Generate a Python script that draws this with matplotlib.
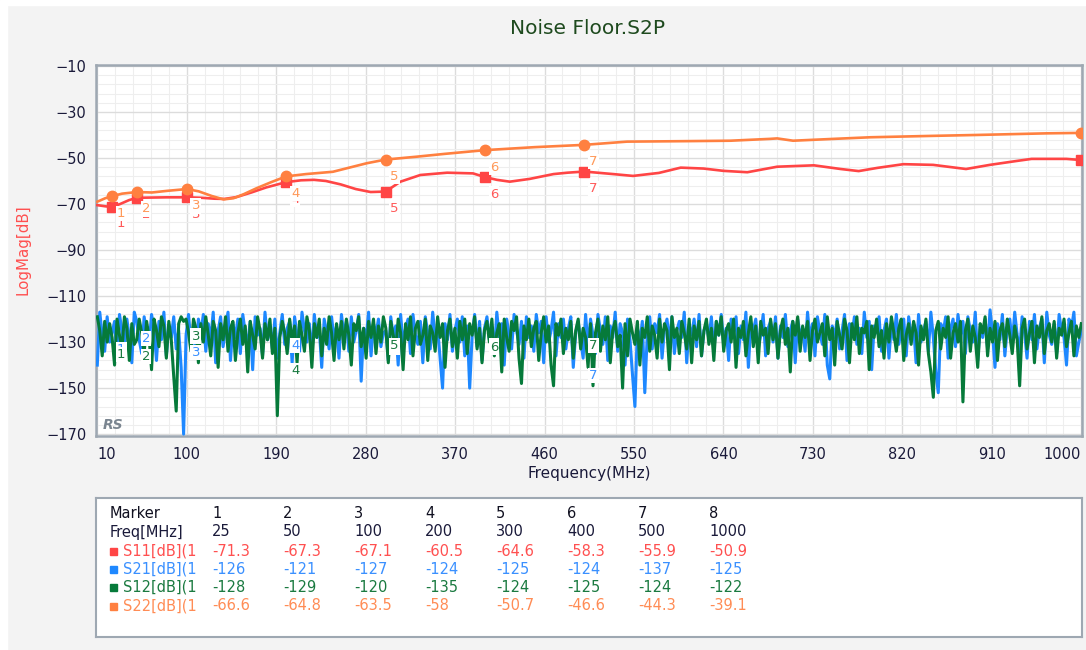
import numpy as np
import matplotlib
matplotlib.use("Agg")
import matplotlib.pyplot as plt
from matplotlib.patches import Rectangle

# ---- data ----
s11_freq = [10, 18, 25, 33, 42, 50, 65, 80, 100, 115, 128, 138, 150, 165, 180, 200, 215, 228, 240, 255,
            270, 285, 300, 315, 335, 362, 388, 400, 412, 425, 445, 469, 483, 500, 529, 549, 575, 597, 620, 640,
            664, 694, 731, 758, 776, 795, 821, 851, 884, 908, 935, 950, 985, 1000]
s11_db = [-70.5, -71.0, -71.3, -70.0, -68.3, -67.3, -67.2, -67.1, -67.1, -67.3, -67.7, -67.8, -67.0, -65.0,
          -62.8, -60.5, -59.7, -59.5, -60.0, -61.5, -63.5, -64.8, -64.6, -60.3, -57.4, -56.4, -56.7, -58.3,
          -59.5, -60.3, -59.1, -57.0, -56.4, -55.9, -57.0, -57.8, -56.5, -54.2, -54.6, -55.6, -56.2, -53.8,
          -53.2, -54.8, -55.7, -54.3, -52.7, -53.0, -54.8, -53.0, -51.3, -50.4, -50.4, -50.9]

s22_freq = [10, 18, 25, 35, 50, 65, 80, 100, 112, 125, 137, 147, 157, 170, 185, 200, 220, 247, 281, 300,
            330, 360, 400, 450, 500, 543, 600, 647, 687, 694, 710, 751, 788, 850, 895, 965, 1000]
s22_db = [-69.0, -67.5, -66.6, -65.5, -64.8, -65.0, -64.3, -63.5, -64.5, -66.5, -68.0, -67.5, -65.8, -63.2,
          -60.5, -58.0, -57.0, -56.0, -52.3, -50.7, -49.5, -48.2, -46.6, -45.3, -44.3, -42.9, -42.7, -42.5,
          -41.7, -41.5, -42.5, -41.7, -41.0, -40.4, -40.0, -39.3, -39.1]

# noise floor traces, 400 sweep points from 10 to 1000 MHz
s21_db = [
    -140, -117, -127, -134, -119, -130, -126, -121, -137, -118, -125, -132, -120, -128, -139, -117, -121, -129, -135, -119, -126, -131, -118, -124, -138,
    -121, -129, -117, -136, -123, -128, -119, -133, -125, -141, -170, -127, -118, -131, -124, -137, -120, -126, -118, -134, -122, -129, -117, -139, -125,
    -119, -132, -124, -117, -138, -122, -128, -120, -135, -118, -126, -131, -121, -142, -119, -127, -124, -136, -117, -129, -123, -133, -120, -137, -126,
    -118, -131, -124, -121, -139, -119, -127, -134, -117, -125, -130, -122, -136, -118, -128, -124, -141, -120, -126, -133, -119, -129, -123, -137, -118,
    -127, -121, -134, -119, -130, -125, -118, -147, -124, -129, -117, -136, -122, -127, -120, -132, -126, -125, -138, -119, -128, -123, -140, -118, -131,
    -124, -120, -135, -118, -127, -131, -121, -139, -119, -126, -133, -117, -128, -124, -137, -150, -122, -129, -118, -134, -125, -120, -130, -119, -136,
    -123, -150, -127, -118, -132, -121, -138, -124, -119, -129, -126, -135, -117, -128, -122, -140, -120, -127, -133, -118, -125, -131, -121, -137, -119,
    -128, -123, -134, -118, -126, -121, -139, -119, -130, -125, -117, -136, -122, -128, -120, -133, -124, -119, -141, -126, -121, -129, -137, -118, -132,
    -120, -127, -135, -118, -125, -131, -119, -138, -123, -128, -117, -134, -122, -126, -140, -120, -129, -144, -158, -124, -130, -121, -152, -127, -119,
    -133, -122, -126, -118, -137, -124, -120, -130, -119, -135, -125, -121, -128, -117, -139, -123, -127, -120, -132, -118, -136, -125, -122, -129, -119,
    -134, -121, -127, -118, -131, -124, -138, -120, -126, -119, -135, -123, -129, -117, -141, -122, -125, -120, -133, -127, -118, -136, -124, -121, -130,
    -119, -137, -123, -128, -118, -132, -125, -121, -139, -120, -127, -124, -134, -117, -129, -122, -136, -119, -126, -131, -118, -140, -146, -123, -128,
    -120, -133, -125, -118, -138, -122, -127, -119, -131, -124, -135, -117, -128, -121, -142, -123, -126, -119, -134, -125, -120, -137, -122, -129, -118,
    -131, -124, -120, -136, -119, -127, -123, -139, -118, -130, -125, -121, -134, -117, -128, -143, -152, -122, -126, -119, -137, -124, -120, -132, -118,
    -127, -121, -135, -119, -125, -130, -117, -138, -123, -128, -120, -133, -116, -126, -141, -122, -129, -118, -136, -124, -120, -131, -117, -127, -134,
    -119, -126, -137, -121, -129, -118, -133, -124, -120, -139, -117, -127, -131, -122, -135, -118, -125, -128, -140, -120, -124, -117, -136, -130, -125,
]
s12_db = [
    -119, -125, -136, -121, -130, -122, -128, -140, -120, -127, -133, -119, -124, -138, -122, -131, -129, -120, -126, -135, -121, -128, -142, -120, -125,
    -132, -119, -123, -137, -121, -129, -145, -160, -122, -119, -121, -120, -126, -134, -120, -124, -139, -122, -130, -119, -127, -136, -121, -125, -141,
    -122, -129, -119, -134, -124, -121, -138, -126, -120, -131, -123, -143, -121, -127, -133, -119, -125, -137, -122, -129, -120, -135, -124, -162, -128,
    -121, -126, -135, -120, -130, -123, -139, -121, -127, -134, -119, -125, -141, -122, -128, -120, -136, -124, -131, -119, -126, -138, -122, -129, -121,
    -133, -120, -127, -140, -122, -125, -119, -132, -124, -137, -121, -128, -120, -135, -123, -130, -119, -124, -139, -121, -127, -134, -120, -126, -142,
    -122, -129, -119, -136, -124, -121, -131, -127, -120, -138, -123, -126, -134, -119, -128, -122, -141, -125, -120, -132, -124, -137, -121, -129, -120,
    -135, -122, -127, -119, -133, -124, -139, -125, -121, -130, -120, -136, -126, -122, -143, -120, -128, -134, -121, -125, -119, -137, -148, -123, -129,
    -120, -132, -124, -121, -138, -126, -119, -130, -123, -140, -149, -122, -127, -120, -135, -124, -129, -121, -137, -125, -120, -133, -124, -128, -141,
    -122, -149, -126, -120, -134, -123, -129, -119, -139, -125, -121, -132, -127, -150, -122, -136, -120, -126, -131, -121, -140, -124, -128, -119, -134,
    -123, -127, -137, -120, -130, -122, -125, -142, -119, -128, -124, -135, -121, -126, -133, -120, -139, -123, -129, -121, -136, -125, -120, -131, -124,
    -138, -121, -127, -119, -134, -125, -122, -130, -120, -141, -124, -128, -121, -136, -126, -119, -132, -123, -139, -121, -127, -124, -135, -120, -129,
    -122, -137, -125, -120, -131, -124, -143, -121, -127, -119, -134, -123, -128, -121, -138, -125, -120, -130, -126, -122, -136, -119, -129, -124, -140,
    -121, -127, -133, -120, -125, -139, -122, -129, -119, -135, -124, -126, -121, -142, -123, -128, -120, -132, -125, -137, -122, -130, -119, -126, -134,
    -124, -120, -138, -127, -122, -131, -121, -126, -140, -123, -129, -120, -135, -143, -154, -125, -121, -133, -124, -128, -119, -137, -126, -122, -130,
    -121, -156, -125, -120, -134, -123, -128, -141, -122, -126, -119, -136, -124, -130, -121, -138, -125, -122, -132, -120, -127, -135, -123, -129, -149,
    -124, -120, -133, -126, -121, -139, -123, -128, -119, -135, -125, -122, -130, -121, -137, -124, -127, -120, -132, -126, -121, -136, -123, -128, -122,
]
freq_s21 = np.linspace(10, 1000, len(s21_db))
freq_s12 = np.linspace(10, 1000, len(s12_db))

marker_ids = [1, 2, 3, 4, 5, 6, 7, 8]
marker_freq = [25, 50, 100, 200, 300, 400, 500, 1000]
mk_s11 = [-71.3, -67.3, -67.1, -60.5, -64.6, -58.3, -55.9, -50.9]
mk_s21 = [-126, -121, -127, -124, -125, -124, -137, -125]
mk_s12 = [-128, -129, -120, -135, -124, -125, -124, -122]
mk_s22 = [-66.6, -64.8, -63.5, -58, -50.7, -46.6, -44.3, -39.1]
mk_text = {
    "S11": ["-71.3", "-67.3", "-67.1", "-60.5", "-64.6", "-58.3", "-55.9", "-50.9"],
    "S21": ["-126", "-121", "-127", "-124", "-125", "-124", "-137", "-125"],
    "S12": ["-128", "-129", "-120", "-135", "-124", "-125", "-124", "-122"],
    "S22": ["-66.6", "-64.8", "-63.5", "-58", "-50.7", "-46.6", "-44.3", "-39.1"],
}

RED = "#ff4545"
BLUE = "#1e88ff"
GREEN = "#067a3a"
ORANGE = "#ff8040"
TXT = "#1a1a3a"

W, H = 1086, 650
fig = plt.figure(figsize=(W / 100, H / 100), dpi=100, facecolor="#f3f3f3")
fig.patches.append(Rectangle((0, 0), 7 / W, 1, transform=fig.transFigure, color="white", zorder=0))
fig.patches.append(Rectangle((0, 1 - 5 / H), 1, 5 / H, transform=fig.transFigure, color="white", zorder=0))

ax = fig.add_axes([96 / W, 1 - 435.5 / H, 986 / W, 370.5 / H])
ax.set_facecolor("white")

ax.plot(freq_s21, s21_db, color=BLUE, lw=2.2, zorder=3)
ax.plot(freq_s12, s12_db, color=GREEN, lw=2.2, zorder=4)
ax.plot(s11_freq, s11_db, color=RED, lw=1.9, zorder=5)
ax.plot(s22_freq, s22_db, color=ORANGE, lw=1.9, zorder=6)
ax.plot(marker_freq, mk_s11, "s", color=RED, ms=7, ls="none", zorder=5)
ax.plot(marker_freq, mk_s22, "o", color=ORANGE, ms=7.5, ls="none", zorder=6)

# marker labels
label_sets = [(mk_s11, "#ff5a5a", 7), (mk_s21, "#3a90ff", 4.5), (mk_s12, "#1a7a40", 8), (mk_s22, "#ff9a5a", 9)]
for vals, col, z in label_sets:
    for k, f, v in zip(marker_ids, marker_freq, vals):
        if f >= 1000:
            continue
        ax.annotate(str(k), (f, v), xytext=(6.5, -12.2), textcoords="offset points",
                    ha="center", va="center", fontsize=9.5, color=col, zorder=z,
                    bbox=dict(boxstyle="square,pad=0.08", fc="white", ec="none"))

ax.set_xlim(8.7, 1000.7)
ax.set_ylim(-170.6, -9.6)
ax.set_xticks(np.arange(10, 1001, 90))
ax.set_xticks(np.arange(10, 1001, 18), minor=True)
ax.set_yticks(np.arange(-170, -9, 20))
ax.set_yticks(np.arange(-170, -9, 4), minor=True)
ax.grid(which="major", color="#dcdcdc", lw=1.0, zorder=0)
ax.grid(which="minor", color="#eeeeee", lw=0.8, zorder=0)
ax.set_axisbelow(True)
ax.tick_params(which="both", length=0, labelsize=10.5, labelcolor=TXT)
ax.tick_params(axis="x", pad=8)
ax.tick_params(axis="y", pad=7)
xt = ax.get_xticklabels()
xt[0].set_ha("left")
xt[-1].set_ha("right")
for sp in ax.spines.values():
    sp.set_color("#9ea8b2")
    sp.set_linewidth(1.8)

ax.set_xlabel("Frequency(MHz)", fontsize=11, color=TXT, labelpad=3)
fig.text(23 / W, 1 - 250 / H, "LogMag[dB]", rotation=90, fontsize=10.8, color="#ff5050",
         ha="center", va="center")
fig.text(588 / W, 1 - 28 / H, "Noise Floor.S2P", fontsize=14.5, color="#1e4a1e",
         ha="center", va="center")
ax.text(0.007, 0.027, "RS", transform=ax.transAxes, fontsize=10, color="#7a8590",
        style="italic", fontweight="bold", ha="left", va="center")

# marker table
tax = fig.add_axes([96 / W, 1 - 637 / H, 986 / W, 139 / H])
tax.set_xlim(0, 986)
tax.set_ylim(139, 0)
tax.set_xticks([])
tax.set_yticks([])
tax.set_facecolor("white")
for sp in tax.spines.values():
    sp.set_color("#9ea8b2")
    sp.set_linewidth(1.5)

row_y = [16, 34, 53, 71, 89, 108]
col_x = [116 + 71 * i for i in range(8)]
fs = 10.5
tax.text(14, row_y[0], "Marker", fontsize=fs, color="#101020", va="center")
tax.text(14, row_y[1], "Freq[MHz]", fontsize=fs, color=TXT, va="center")
for x, k, f in zip(col_x, marker_ids, marker_freq):
    tax.text(x, row_y[0], str(k), fontsize=fs, color="#101020", va="center")
    tax.text(x, row_y[1], str(f), fontsize=fs, color=TXT, va="center")

rows = [("S11", "#ff5050", RED), ("S21", "#3a90ff", BLUE), ("S12", "#1a7a40", GREEN), ("S22", "#ff8c55", ORANGE)]
clip = Rectangle((0, 0), 101, 139, transform=tax.transData, fc="none", ec="none")
tax.add_patch(clip)
for (name, tcol, scol), y in zip(rows, row_y[2:]):
    tax.add_patch(Rectangle((14, y - 3.5), 7, 7, color=scol))
    t = tax.text(27, y, name + "[dB](1)", fontsize=fs, color=tcol, va="center")
    t.set_clip_on(True)
    t.set_clip_path(clip)
    for x, s in zip(col_x, mk_text[name]):
        tax.text(x, y, s, fontsize=fs, color=tcol, va="center")

fig.savefig("out.png", dpi=100, facecolor=fig.get_facecolor())
